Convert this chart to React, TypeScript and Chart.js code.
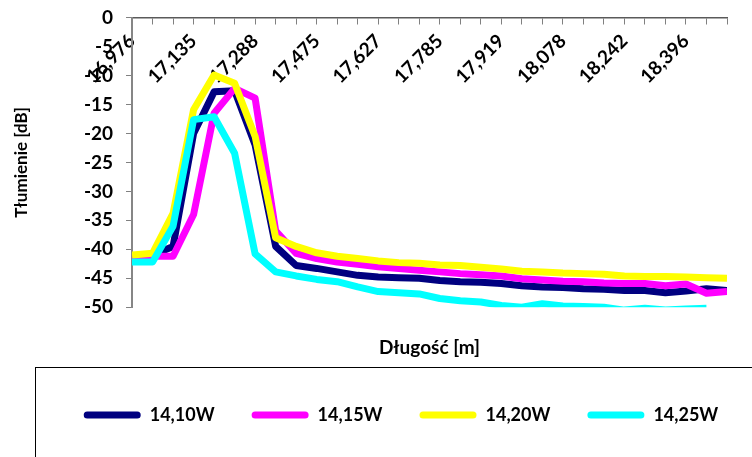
import { useEffect, useRef } from 'react';
import { Chart, registerables } from 'chart.js';

Chart.register(...registerables);

// Category axis: 30 measurement positions, labelled every third one
const categoryLabels = [
  '16,976', '', '', '17,135', '', '', '17,288', '', '', '17,475', '', '',
  '17,627', '', '', '17,785', '', '', '17,919', '', '', '18,078', '', '',
  '18,242', '', '', '18,396', '', '',
];

const seriesNames = ['14,10W', '14,15W', '14,20W', '14,25W'];
const seriesColors = ['#000080', '#FF00FF', '#FFFF00', '#00FFFF'];

const s1410 = [
  -41.5, -41, -39.5, -20, -12.8, -12.6, -22, -39.5, -42.8, -43.3,
  -43.9, -44.5, -44.8, -44.9, -45.0, -45.4, -45.6, -45.7, -45.9, -46.3,
  -46.5, -46.6, -46.8, -46.9, -47.1, -47.1, -47.5, -47.2, -46.8, -47.1,
];
const s1415 = [
  -41.5, -41.2, -41.2, -34, -16.5, -12.2, -13.9, -36.8, -40.7, -41.6,
  -42.2, -42.6, -43.0, -43.3, -43.6, -43.9, -44.2, -44.4, -44.6, -45.1,
  -45.3, -45.5, -45.6, -45.8, -45.9, -45.9, -46.3, -46.0, -47.6, -47.3,
];
const s1420 = [
  -41.0, -40.7, -33.8, -15.9, -9.9, -11.3, -20.5, -38, -39.5, -40.6,
  -41.2, -41.6, -42.0, -42.3, -42.4, -42.7, -42.8, -43.1, -43.4, -43.8,
  -43.9, -44.1, -44.2, -44.3, -44.6, -44.7, -44.7, -44.8, -44.9, -45.0,
];
const s1425 = [
  -42.2, -42.2, -36, -17.6, -17.1, -23.4, -40.8, -43.9, -44.6, -45.2,
  -45.6, -46.5, -47.3, -47.5, -47.7, -48.5, -48.9, -49.1, -49.7, -50.0,
  -49.4, -49.8, -49.9, -50.0, -50.5, -50.2, -50.5, -50.3, -50.2, null,
];

const yMin = -50;
const yMax = 0;
const yStep = 5;

const yTitle = 'Tłumienie [dB]';
const xTitle = 'Długość [m]';

const FONT = 'Lato, "Open Sans", sans-serif';

const legendFrame = {
  id: 'legendFrame',
  afterDraw(chart: any) {
    const lg = chart.legend;
    if (!lg) return;
    const ctx = chart.ctx;
    ctx.save();
    ctx.strokeStyle = '#000000';
    ctx.lineWidth = 1;
    ctx.strokeRect(35.5, Math.round(lg.top - 2) + 0.5, chart.width, chart.height);
    ctx.restore();
  },
};

export default function App() {
  const ref = useRef<HTMLCanvasElement | null>(null);

  useEffect(() => {
    if (!ref.current) return;
    const series = [s1410, s1415, s1420, s1425];
    const chart = new Chart(ref.current, {
      type: 'line',
      data: {
        labels: categoryLabels,
        datasets: series.map((d, i) => ({
          label: seriesNames[i],
          data: d,
          borderColor: seriesColors[i],
          backgroundColor: seriesColors[i],
          borderWidth: 7,
          borderJoinStyle: 'round' as const,
          borderCapStyle: 'butt' as const,
          pointRadius: 0,
          pointHoverRadius: 0,
          tension: 0,
          fill: false,
          clip: 0,
          order: series.length - i,
        })),
      },
      options: {
        responsive: false,
        animation: false,
        events: [],
        layout: { padding: { top: 0, left: 0, right: 0, bottom: 23 } },
        plugins: {
          tooltip: { enabled: false },
          legend: {
            position: 'bottom',
            labels: {
              boxWidth: 57,
              boxHeight: 7,
              padding: 37,
              color: '#000000',
              useBorderRadius: true,
              borderRadius: 3.5,
              font: { family: FONT, size: 18, weight: 'bold' },
              sort: (a: any, b: any) => a.datasetIndex - b.datasetIndex,
              generateLabels: (c: any) => {
                const items = (Chart.defaults.plugins.legend.labels as any).generateLabels(c);
                return items.map((it: any) => ({
                  ...it,
                  fillStyle: it.strokeStyle,
                  lineWidth: 0,
                  borderRadius: 3.5,
                }));
              },
            },
          },
          title: {
            display: true,
            position: 'bottom',
            text: xTitle,
            fullSize: false,
            weight: 500,
            color: '#000000',
            padding: { top: 29.5, bottom: 9.5 },
            font: { family: FONT, size: 19, weight: 'bold' },
          },
        },
        scales: {
          x: {
            type: 'category',
            position: { y: 0 },
            offset: false,
            grid: {
              drawOnChartArea: false,
              drawTicks: true,
              tickLength: 6,
              color: '#808080',
              lineWidth: 1,
            },
            border: { display: true, color: '#5a5a5a', width: 1.5 },
            ticks: {
              autoSkip: false,
              maxRotation: 45,
              minRotation: 45,
              padding: 6,
              color: '#000000',
              font: { family: FONT, size: 19, weight: 'bold' },
            },
          },
          y: {
            position: 'left',
            min: yMin,
            max: yMax,
            ticks: {
              stepSize: yStep,
              padding: 13,
              color: '#000000',
              font: { family: FONT, size: 19, weight: 'bold', lineHeight: 0.5 },
            },
            grid: {
              drawOnChartArea: false,
              drawTicks: true,
              tickLength: 6,
              color: '#808080',
            },
            border: { display: true, color: '#868686', width: 2 },
            title: {
              display: true,
              text: yTitle,
              color: '#000000',
              font: { family: FONT, size: 17, weight: 'bold' },
              padding: { top: 11.5, bottom: 39 },
            },
          },
          yR: {
            position: 'right',
            display: true,
            grid: { display: false, drawTicks: false },
            border: { display: false },
            ticks: { display: false },
            afterFit: (s: any) => {
              s.width = 75;
            },
          },
        },
      } as any,
      plugins: [legendFrame],
    });
    return () => chart.destroy();
  }, []);

  return (
    <div
      style={{
        position: 'fixed',
        left: 0,
        top: 0,
        width: 752,
        height: 457,
        overflow: 'hidden',
        background: '#ffffff',
      }}
    >
      <canvas ref={ref} width={802} height={457} style={{ display: 'block' }} />
    </div>
  );
}
